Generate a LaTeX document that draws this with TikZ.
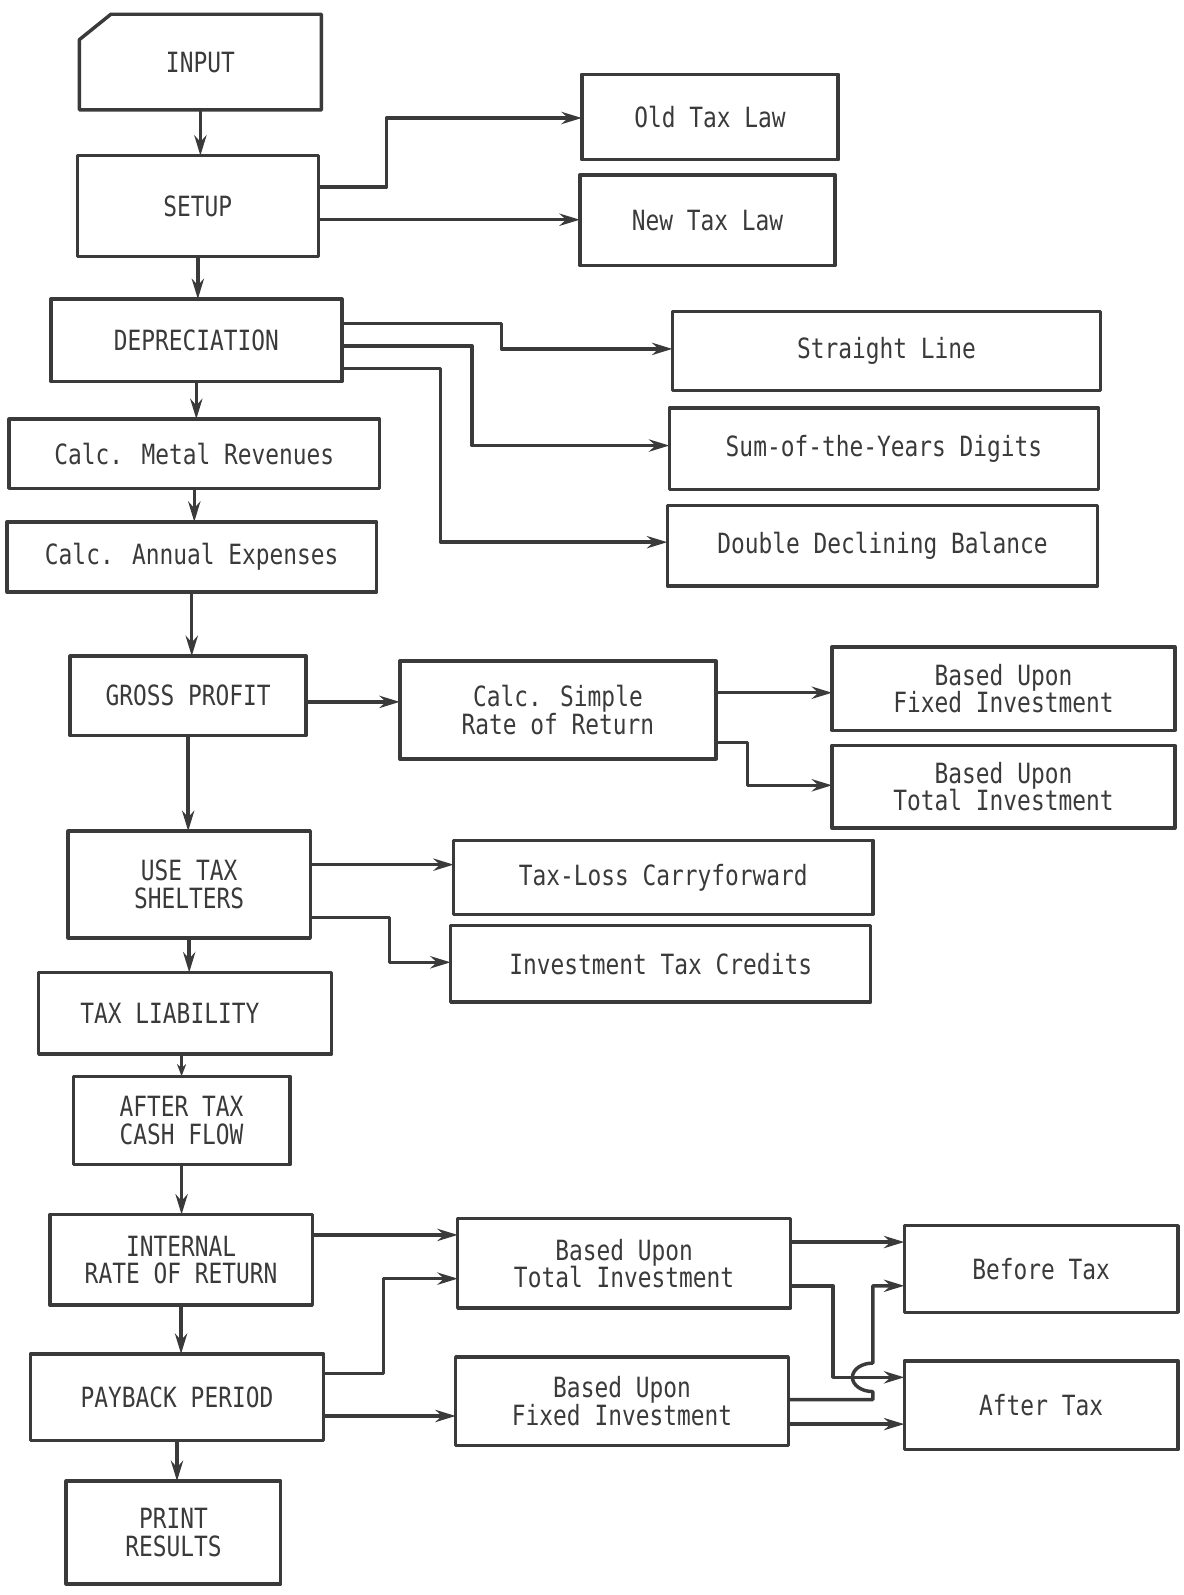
\documentclass[tikz,border=0pt]{standalone}
\usepackage{fontspec}
\newfontfamily\boxfont[FakeStretch=0.82]{DejaVu Sans Mono}
\usetikzlibrary{arrows.meta}
\definecolor{ink}{HTML}{3A3A3A}
\tikzset{
  box/.style={draw=ink, line width=1.7pt, line join=round, inner sep=0pt, outer sep=0pt, align=center, text=ink,
    font=\boxfont\fontsize{13.7pt}{13.5pt}\selectfont},
  sz/.style 2 args={minimum width=#1*0.5pt, minimum height=#2*0.5pt},
  arr/.style={draw=ink, line width=1.7pt, line join=round, -{Stealth[length=10pt,width=6pt]}},
}
\begin{document}
\begin{tikzpicture}[x=0.5pt,y=-0.5pt]
\useasboundingbox (0,0) rectangle (1163,1568);
% left column
\node[box, draw=none, sz={238}{94}] (inp) at (197,61) {INPUT};
\draw[draw=ink, line width=1.7pt, line join=round] (inp.south west) -- ([yshift=-12.5pt]inp.north west) -- ([xshift=15.5pt]inp.north west) -- (inp.north east) -- (inp.south east) -- cycle;
\node[box, sz={237}{99}] (setup) at (194.5,202.5) {SETUP};
\node[box, sz={286}{81}] (dep) at (193,334.5) {DEPRECIATION};
\node[box, sz={364}{68}] (metal) at (191,446) {Calc. Metal Revenues};
\node[box, sz={363}{69}] (annual) at (188.5,547.5) {Calc. Annual Expenses};
\node[box, sz={232}{78}] (gross) at (185,684) {GROSS PROFIT};
\node[box, sz={238}{105}] (use) at (186,869.5) {USE\enspace TAX\\SHELTERS};
\node[box, sz={288}{80}] (tl) at (182,996) {TAX LIABILITY\hspace*{15pt}};
\node[box, sz={213}{87}] (aft) at (178.5,1101.5) {AFTER TAX\\CASH FLOW};
\node[box, sz={258}{89}] (irr) at (178,1238.5) {INTERNAL\\RATE OF RETURN};
\node[box, sz={288}{85}] (pay) at (174,1373.5) {PAYBACK PERIOD};
\node[box, sz={211}{101}] (prt) at (170.5,1506.5) {PRINT\\RESULTS};
% right side
\node[box, sz={252}{84}] (old) at (698,115) {Old Tax Law};
\node[box, sz={251}{89}] (new) at (695.5,216.5) {New Tax Law};
\node[box, sz={421}{78}] (sl) at (871.5,345) {Straight Line};
\node[box, sz={422}{80}] (syd) at (869,441) {Sum-of-the-Years Digits};
\node[box, sz={423}{79}] (ddb) at (867.5,536.5) {Double Declining Balance};
\node[box, sz={311}{96}] (simple) at (548.5,698) {Calc. Simple\\Rate of Return};
\node[box, sz={337}{82}] (fix1) at (986.5,677) {Based Upon\\Fixed Investment};
\node[box, sz={337}{81}] (tot1) at (986.5,773.5) {Based Upon\\Total Investment};
\node[box, sz={412}{73}] (tlc) at (652,862.5) {Tax-Loss Carryforward};
\node[box, sz={413}{75}] (itc) at (649.5,947.5) {Investment Tax Credits};
\node[box, sz={327}{88}] (tot2) at (613.5,1242) {Based Upon\\Total Investment};
\node[box, sz={327}{87}] (fix2) at (611.5,1377.5) {Based Upon\\Fixed Investment};
\node[box, sz={269}{85}] (bef) at (1023.5,1247.5) {Before Tax};
\node[box, sz={269}{87}] (aftt) at (1023.5,1381.5) {After Tax};
% vertical flow
\draw[arr] (inp.south) -- (inp.south |- setup.north);
\draw[arr] (setup.south) -- (setup.south |- dep.north);
\draw[arr] (dep.south) -- (dep.south |- metal.north);
\draw[arr] (metal.south) -- (metal.south |- annual.north);
\draw[arr] (annual.south) -- (annual.south |- gross.north);
\draw[arr] (gross.south) -- (gross.south |- use.north);
\draw[arr] (use.south) -- (use.south |- tl.north);
\draw[arr, -{Stealth[length=6pt,width=4.5pt]}] (aft.north |- tl.south) -- (aft.north);
\draw[arr] (aft.south) -- (aft.south |- irr.north);
\draw[arr] (irr.south) -- (irr.south |- pay.north);
\draw[arr] (pay.south) -- (pay.south |- prt.north);
% branches
\draw[arr] (setup.east |- 0,184) -- (380,184) -- (380,116) -- (old.west |- 0,116);
\draw[arr] (setup.east |- 0,216) -- (new.west |- 0,216);
\draw[arr] (dep.east |- 0,318) -- (493,318) -- (493,343) -- (sl.west |- 0,343);
\draw[arr] (dep.east |- 0,340) -- (464,340) -- (464,438) -- (syd.west |- 0,438);
\draw[arr] (dep.east |- 0,362) -- (433,362) -- (433,533) -- (ddb.west |- 0,533);
\draw[arr] (gross.east |- 0,690) -- (simple.west |- 0,690);
\draw[arr] (simple.east |- 0,681) -- (fix1.west |- 0,681);
\draw[arr] (simple.east |- 0,730) -- (735,730) -- (735,772) -- (tot1.west |- 0,772);
\draw[arr] (use.east |- 0,850) -- (tlc.west |- 0,850);
\draw[arr] (use.east |- 0,902) -- (383,902) -- (383,946) -- (itc.west |- 0,946);
\draw[arr] (irr.east |- 0,1214) -- (tot2.west |- 0,1214);
\draw[arr] (pay.east |- 0,1350) -- (377,1350) -- (377,1257) -- (tot2.west |- 0,1257);
\draw[arr] (pay.east |- 0,1392) -- (fix2.west |- 0,1392);
\draw[arr] (tot2.east |- 0,1221) -- (bef.west |- 0,1221);
\draw[arr] (tot2.east |- 0,1264) -- (819,1264) -- (819,1354) -- (aftt.west |- 0,1354);
\draw[arr] (fix2.east |- 0,1376) -- (858,1376) -- (858,1368) arc[start angle=-90, end angle=-270, x radius=10pt, y radius=7pt] -- (858,1264) -- (bef.west |- 0,1264);
\draw[arr] (fix2.east |- 0,1400) -- (aftt.west |- 0,1400);
\end{tikzpicture}
\end{document}
